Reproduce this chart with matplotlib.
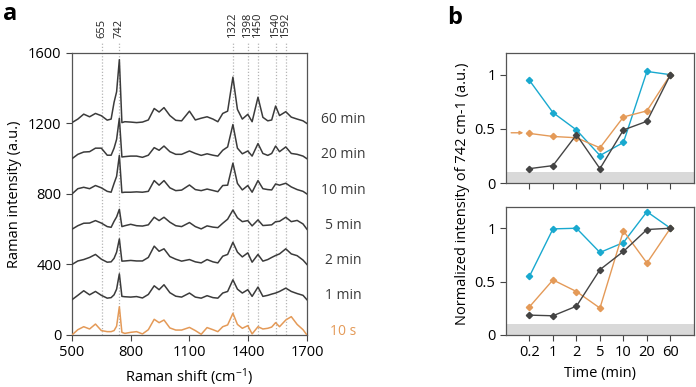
import matplotlib
matplotlib.use("Agg")
import matplotlib.pyplot as plt
import numpy as np

plt.rcParams['font.family'] = ['Open Sans', 'DejaVu Sans']
plt.rcParams['mathtext.fontset'] = 'custom'
plt.rcParams['mathtext.rm'] = 'Open Sans'
plt.rcParams['mathtext.it'] = 'Open Sans'

# ---------------- data: panel a ----------------
wavenumber = [500, 530, 560, 590, 620, 650, 680, 700, 715, 728, 742, 755, 770, 800, 830, 860,
              890, 920, 945, 970, 1000, 1030, 1060, 1100, 1130, 1160, 1190, 1220, 1245, 1270,
              1295, 1322, 1345, 1370, 1398, 1420, 1450, 1475, 1500, 1520, 1540, 1560, 1592,
              1620, 1650, 1680, 1700]

spec_60min = [5, 25, 53, 38, 57, 44, 19, 25, 120, 180, 362, 5, 10, 8, 5, 8, 20, 85, 65, 90, 45,
              18, 15, 70, 20, 30, 38, 25, 10, 57, 70, 263, 80, 25, 52, 10, 149, 35, 15, 20, 99,
              45, 67, 36, 25, 15, 0]
spec_20min = [0, 25, 38, 40, 60, 60, 20, 20, 60, 110, 230, 10, 12, 15, 15, 8, 20, 63, 48, 72, 40,
              25, 25, 44, 30, 19, 28, 20, 15, 48, 67, 194, 60, 28, 44, 15, 86, 30, 19, 30, 72,
              40, 67, 30, 25, 15, 0]
spec_10min = [0, 30, 38, 30, 48, 35, 15, 10, 60, 100, 219, 8, 10, 10, 12, 10, 15, 76, 50, 76, 35,
              19, 22, 51, 25, 19, 28, 20, 13, 48, 50, 175, 60, 23, 48, 10, 76, 30, 25, 23, 57,
              50, 61, 40, 25, 15, 0]
spec_5min = [0, 20, 34, 35, 49, 35, 15, 11, 45, 70, 113, 15, 20, 28, 20, 18, 25, 68, 49, 68, 40,
             20, 15, 38, 15, 2, 19, 12, 9, 34, 57, 109, 65, 43, 49, 19, 53, 21, 23, 25, 43, 45,
             68, 43, 50, 30, 0]
spec_2min = [0, 20, 28, 40, 57, 30, 13, 15, 35, 70, 145, 19, 20, 23, 20, 20, 40, 104, 75, 89, 45,
             30, 19, 28, 15, 9, 28, 15, 9, 47, 57, 126, 70, 43, 66, 13, 57, 19, 28, 40, 51, 60,
             89, 60, 50, 25, 0]
spec_1min = [0, 25, 51, 28, 47, 25, 9, 12, 28, 60, 147, 19, 17, 15, 18, 10, 30, 79, 57, 85, 40,
             20, 15, 38, 15, 9, 23, 12, 9, 38, 47, 113, 60, 38, 57, 19, 72, 19, 25, 32, 38, 47,
             66, 47, 35, 25, 0]
spec_10s = [0, 30, 47, 34, 62, 25, 19, 19, 25, 50, 160, 15, 9, 15, 19, 6, 30, 89, 70, 85, 40, 28,
            28, 43, 25, 4, 42, 30, 19, 47, 57, 123, 60, 38, 53, 6, 47, 34, 38, 45, 70, 47, 85,
            104, 60, 30, 0]

spectra = [spec_60min, spec_20min, spec_10min, spec_5min, spec_2min, spec_1min, spec_10s]
spectrum_labels = ['60 min', '20 min', '10 min', '5 min', '2 min', '1 min', '10 s']
offsets = [1200, 1000, 800, 600, 400, 200, 0]
peak_positions = [655, 742, 1322, 1398, 1450, 1540, 1592]

# ---------------- data: panel b ----------------
time_labels = ['0.2', '1', '2', '5', '10', '20', '60']
top_cyan = [0.947, 0.65, 0.49, 0.254, 0.375, 1.03, 1.0]
top_orange = [0.458, 0.43, 0.418, 0.325, 0.61, 0.666, 1.0]
top_dark = [0.133, 0.161, 0.446, 0.133, 0.49, 0.57, 1.0]
top_arrow_level = 0.464
bot_cyan = [0.55, 0.994, 1.0, 0.773, 0.866, 1.155, 1.0]
bot_orange = [0.264, 0.516, 0.407, 0.252, 0.975, 0.674, 1.0]
bot_dark = [0.186, 0.18, 0.27, 0.612, 0.783, 0.988, 1.0]

DARK = '#3b3b3b'
ORANGE = '#e49a58'
CYAN = '#19a9cf'
GRAYDOT = '#b5b5b5'

fig = plt.figure(figsize=(6.96, 3.87), dpi=100)

# ---------------- panel a ----------------
ax = fig.add_axes([0.1034, 0.1344, 0.3376, 0.7287])
for w in peak_positions:
    ax.plot([w, w], [0, 1660], ls=(0, (1, 1.5)), color=GRAYDOT, lw=0.9, clip_on=False, zorder=1)
    ax.text(w, 1685, str(w), rotation=90, ha='center', va='bottom', fontsize=8,
            color='#222222', linespacing=1.0)

for spec, off, lab in zip(spectra, offsets, spectrum_labels):
    col = ORANGE if lab == '10 s' else DARK
    ax.plot(wavenumber, np.array(spec) + off, color=col, lw=1.1, zorder=3)
    ax.text(1885, off + 22, lab, ha='center', va='center', fontsize=10, color=col, clip_on=False)

ax.set_xlim(500, 1700)
ax.set_ylim(0, 1600)
ax.set_xticks([500, 800, 1100, 1400, 1700])
ax.set_yticks([0, 400, 800, 1200, 1600])
ax.tick_params(direction='out', length=4, width=0.8, labelsize=10.5, color='#444444')
for s in ax.spines.values():
    s.set_color('#555555')
    s.set_linewidth(0.9)
ax.set_xlabel(r'Raman shift (cm$^{-1}$)', fontsize=10.5, labelpad=4)
ax.set_ylabel('Raman intensity (a.u.)', fontsize=10.5, labelpad=4)

fig.text(0.004, 0.995, 'a', fontsize=17, fontweight='bold', va='top', ha='left')
fig.text(0.642, 0.985, 'b', fontsize=17, fontweight='bold', va='top', ha='left')

# ---------------- panel b ----------------
x = np.arange(len(time_labels))

def style_b(axb, show_labels):
    axb.axhspan(0, 0.1, color='#d9d9d9', lw=0, zorder=0)
    axb.set_xlim(-1, 7)
    axb.set_ylim(0, 1.2)
    axb.set_yticks([0, 0.5, 1])
    axb.set_yticklabels(['0', '0.5', '1'])
    axb.set_xticks(x)
    if show_labels:
        axb.set_xticklabels(time_labels)
    else:
        axb.set_xticklabels([])
    axb.tick_params(direction='out', length=4, width=0.8, labelsize=10.5, color='#444444')
    for s in axb.spines.values():
        s.set_color('#555555')
        s.set_linewidth(0.9)

axt = fig.add_axes([0.727, 0.527, 0.270, 0.336])
axb = fig.add_axes([0.727, 0.1344, 0.270, 0.331])
style_b(axt, False)
style_b(axb, True)

for a_, cyan, orange, dark in [(axt, top_cyan, top_orange, top_dark),
                               (axb, bot_cyan, bot_orange, bot_dark)]:
    a_.plot(x, cyan, color=CYAN, lw=1.0, marker='D', ms=3.2, zorder=3)
    a_.plot(x, orange, color=ORANGE, lw=1.0, marker='D', ms=3.2, zorder=3)
    a_.plot(x, dark, color='#444444', lw=1.0, marker='D', ms=3.2, zorder=4)

axt.annotate('', xy=(-0.26, top_arrow_level), xytext=(-0.78, top_arrow_level),
             arrowprops=dict(arrowstyle='-|>', color=ORANGE, lw=1.0, mutation_scale=5,
                             shrinkA=0, shrinkB=0))

axb.set_xlabel('Time (min)', fontsize=10.5, labelpad=4)
fig.text(0.664, 0.5, 'Normalized intensity of 742 cm-1 (a.u.)', rotation=90,
         ha='center', va='center', fontsize=10.5)

fig.savefig('out.png', dpi=100)
